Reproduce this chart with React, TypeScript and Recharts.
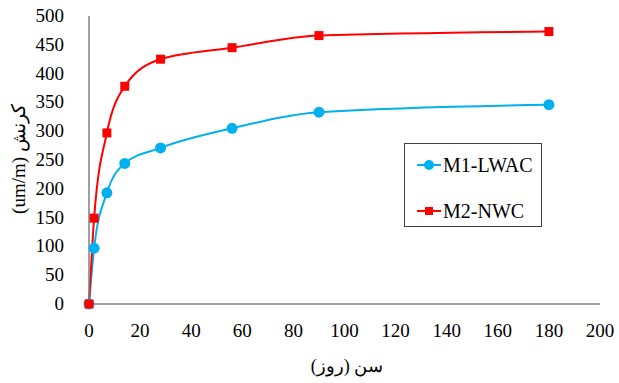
import { LineChart, Line, XAxis, YAxis } from 'recharts'

const days = [0, 2, 7, 14, 28, 56, 90, 180]
const m1Lwac = [0, 97, 193, 244, 271, 305, 333, 346]
const m2Nwc = [0, 149, 297, 378, 425, 445, 466, 473]
const xTicks = [0, 20, 40, 60, 80, 100, 120, 140, 160, 180, 200]
const yTicks = [0, 50, 100, 150, 200, 250, 300, 350, 400, 450, 500]
const seriesNames = ['M1-LWAC', 'M2-NWC']
const xTitle = 'سن (روز)'
const yTitle = 'کرنش (um/m)'

const data = days.map((d, i) => ({ day: d, m1: m1Lwac[i], m2: m2Nwc[i] }))

const blue = '#00B0F0'
const red = '#FF0000'
const axisColor = '#7f7f7f'
const font = '"Liberation Serif", "Times New Roman", serif'

const XTick = (props: any) => {
  const { x, y, payload } = props
  return (
    <text className="tk" x={x} y={y + 25} textAnchor="middle" fill="#000" fontSize={19}>
      {payload.value}
    </text>
  )
}

const YTick = (props: any) => {
  const { x, y, payload } = props
  return (
    <text className="tk" x={x - 17} y={y + 6} textAnchor="end" fill="#000" fontSize={19}>
      {payload.value}
    </text>
  )
}

const Square = (props: any) => {
  const { cx, cy } = props
  if (cx == null || cy == null) return null
  return <rect x={cx - 4.5} y={cy - 4.5} width={9} height={9} fill={red} />
}

const LegendBox = () => (
  <div
    style={{
      position: 'absolute',
      left: 404,
      top: 143,
      border: '1.5px solid #404040',
      width: 138,
      height: 84,
      boxSizing: 'border-box',
      fontFamily: font,
      fontSize: 20,
      color: '#000',
      paddingTop: 10,
    }}
  >
    {[
      { name: seriesNames[0], color: blue, shape: 'circle' },
      { name: seriesNames[1], color: red, shape: 'square' },
    ].map((it, i) => (
      <div key={it.name} style={{ display: 'flex', alignItems: 'center', height: 22, marginTop: i ? 24 : 0 }}>
        <svg width={24} height={14} style={{ marginLeft: 12, marginRight: 2 }}>
          <line x1={0} y1={7} x2={24} y2={7} stroke={it.color} strokeWidth={2} />
          {it.shape === 'circle' ? (
            <circle cx={12} cy={7} r={5} fill={it.color} />
          ) : (
            <rect x={8} y={3} width={8} height={8} fill={it.color} />
          )}
        </svg>
        <span>{it.name}</span>
      </div>
    ))}
  </div>
)

export default function App() {
  return (
    <div style={{ position: 'absolute', left: 0, top: 0, width: 619, height: 383, background: '#fff', fontFamily: font }}>
      <style>{'.recharts-surface text, text.tk { font-family: "Liberation Serif", "Times New Roman", serif !important; }'}</style>
      <LineChart
        width={619}
        height={383}
        data={data}
        margin={{ top: 16, right: 19, bottom: 0, left: 0 }}
      >
        <XAxis
          dataKey="day"
          type="number"
          domain={[0, 200]}
          ticks={xTicks}
          tickLine={false}
          axisLine={{ stroke: axisColor, strokeWidth: 1.5 }}
          tick={<XTick />}
          height={79}
        />
        <YAxis
          type="number"
          domain={[0, 500]}
          ticks={yTicks}
          width={89}
          tickLine={false}
          axisLine={{ stroke: axisColor, strokeWidth: 1.5 }}
          tick={<YTick />}
        />
        <Line
          type="monotone"
          dataKey="m1"
          name={seriesNames[0]}
          stroke={blue}
          strokeWidth={2}
          dot={{ r: 5.5, fill: blue, stroke: blue, strokeWidth: 0 }}
          isAnimationActive={false}
        />
        <Line
          type="monotone"
          dataKey="m2"
          name={seriesNames[1]}
          stroke={red}
          strokeWidth={2}
          dot={<Square />}
          isAnimationActive={false}
        />
      </LineChart>
      <LegendBox />
      <div
        dir="rtl"
        style={{
          position: 'absolute',
          left: 247,
          width: 200,
          top: 354,
          height: 24,
          lineHeight: '24px',
          textAlign: 'center',
          fontSize: 18,
          color: '#000',
          whiteSpace: 'nowrap',
        }}
      >
        {xTitle}
      </div>
      <div
        dir="rtl"
        style={{
          position: 'absolute',
          left: 19 - 100,
          top: 159 - 12,
          width: 200,
          height: 24,
          lineHeight: '24px',
          textAlign: 'center',
          transform: 'rotate(-90deg)',
          fontSize: 19,
          color: '#000',
          whiteSpace: 'nowrap',
        }}
      >
        {yTitle}
      </div>
    </div>
  )
}
